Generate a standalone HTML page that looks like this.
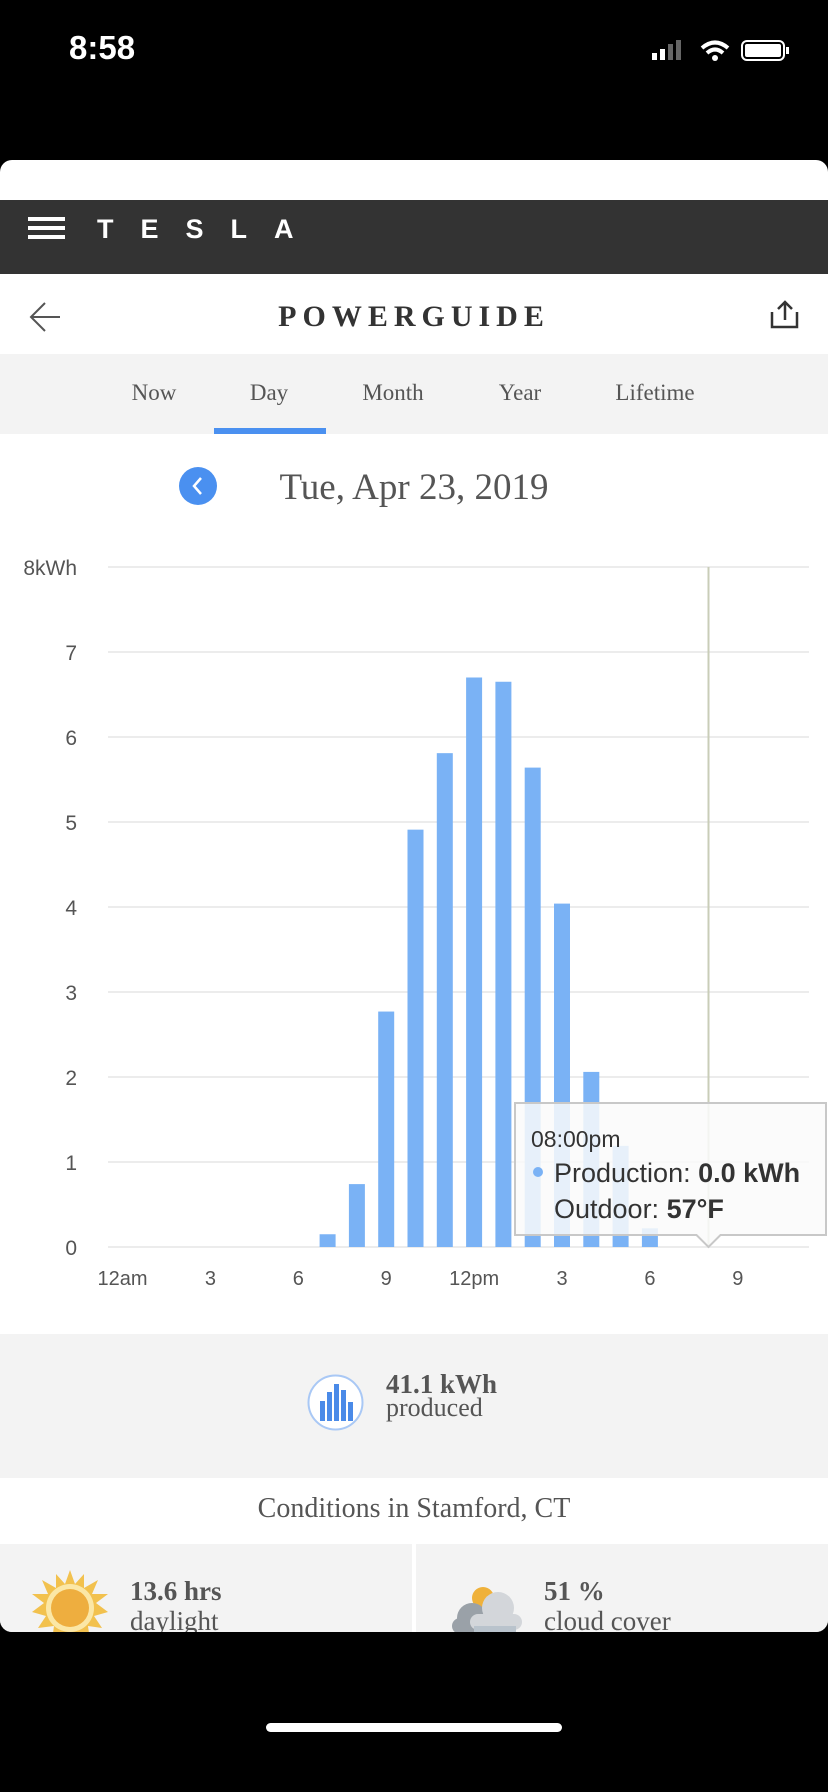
<!DOCTYPE html>
<html><head><meta charset="utf-8">
<style>
body{margin:0;width:828px;height:1792px;background:#000;position:relative;overflow:hidden;font-family:"Liberation Serif",serif}
.abs{position:absolute}
.serif{font-family:"Liberation Serif",serif}
.sans{font-family:"Liberation Sans",sans-serif}
</style></head><body>
<div class="abs sans" style="left:69px;top:29px;color:#fff;font-size:33px;font-weight:bold">8:58</div>
<div class="abs" style="left:652px;top:38px;width:140px;height:24px">
 <svg width="140" height="24"><rect x="0" y="15" width="5" height="7" fill="#fff"/><rect x="8" y="11" width="5" height="11" fill="#fff"/><rect x="16" y="6" width="5" height="16" fill="#666"/><rect x="24" y="2" width="5" height="20" fill="#666"/>
 <path d="M50 10 Q63 -1 76 10" stroke="#fff" stroke-width="4" fill="none"/><path d="M55 15 Q63 8 71 15" stroke="#fff" stroke-width="4" fill="none"/><circle cx="63" cy="20" r="3" fill="#fff"/>
 <rect x="90" y="3" width="42" height="19" rx="5" fill="none" stroke="#fff" stroke-width="2"/><rect x="93" y="6" width="36" height="13" rx="2" fill="#fff"/><rect x="134" y="9" width="3" height="7" fill="#fff"/></svg>
</div>
<div class="abs" style="left:0;top:160px;width:828px;height:1472px;background:#fff;border-radius:12px;overflow:hidden">
 <div class="abs" style="left:0;top:40px;width:828px;height:74px;background:#333"></div>
 <div class="abs" style="left:28px;top:57px;width:37px;height:23px">
  <div style="height:4px;background:#fff;margin-bottom:5px"></div><div style="height:4px;background:#fff;margin-bottom:5px"></div><div style="height:4px;background:#fff"></div></div>
 <div class="abs sans" style="left:97px;top:54px;color:#fff;font-size:27px;font-weight:bold;letter-spacing:27px">TESLA</div>
 <div class="abs" style="left:28px;top:140px"><svg width="34" height="34"><path d="M32 17H3M17 3L3 17L17 31" stroke="#555" stroke-width="2" fill="none"/></svg></div>
 <div class="abs serif" style="left:0;width:828px;top:140px;text-align:center;font-size:30px;font-weight:bold;letter-spacing:6px;color:#333">POWERGUIDE</div>
 <div class="abs" style="left:770px;top:140px"><svg width="30" height="30"><path d="M2 12V27H27V12M15 20V2M8 9L15 2L22 9" stroke="#333" stroke-width="2.5" fill="none"/></svg></div>
 <div class="abs" style="left:0;top:194px;width:828px;height:80px;background:#f3f3f3"></div>
 <div class="abs serif" style="left:104px;width:100px;text-align:center;top:220px;font-size:23px;color:#555">Now</div>
 <div class="abs serif" style="left:219px;width:100px;text-align:center;top:220px;font-size:23px;color:#555">Day</div>
 <div class="abs" style="left:214px;top:268px;width:112px;height:6px;background:#4a90f0"></div>
 <div class="abs serif" style="left:343px;width:100px;text-align:center;top:220px;font-size:23px;color:#555">Month</div>
 <div class="abs serif" style="left:470px;width:100px;text-align:center;top:220px;font-size:23px;color:#555">Year</div>
 <div class="abs serif" style="left:595px;width:120px;text-align:center;top:220px;font-size:23px;color:#555">Lifetime</div>
 <div class="abs" style="left:179px;top:307px;width:38px;height:38px;border-radius:50%;background:#4a90f0"><svg width="38" height="38"><path d="M22 11L15 19L22 27" stroke="#fff" stroke-width="2.5" fill="none"/></svg></div>
 <div class="abs serif" style="left:0;width:828px;text-align:center;top:306px;font-size:37px;color:#555">Tue, Apr 23, 2019</div>
 <div class="abs" style="left:0;top:1174px;width:828px;height:144px;background:#f3f3f3"></div>
 <div class="abs" style="left:307px;top:1214px"><svg width="57" height="57"><circle cx="28.5" cy="28.5" r="27" fill="#fff" stroke="#a9c8f5" stroke-width="2"/><rect x="13" y="27" width="5" height="20" fill="#4a8ae8"/><rect x="20" y="18" width="5" height="29" fill="#4a8ae8"/><rect x="27" y="10" width="5" height="37" fill="#4a8ae8"/><rect x="34" y="16" width="5" height="31" fill="#4a8ae8"/><rect x="41" y="28" width="5" height="19" fill="#4a8ae8"/></svg></div>
 <div class="abs serif" style="left:386px;top:1211px;font-size:27px;font-weight:bold;color:#555;line-height:26px">41.1 kWh</div>
 <div class="abs serif" style="left:386px;top:1236px;font-size:26px;color:#555;line-height:24px">produced</div>
 <div class="abs serif" style="left:0;width:828px;text-align:center;top:1333px;font-size:28px;color:#555">Conditions in Stamford, CT</div>
 <div class="abs" style="left:0;top:1384px;width:412px;height:100px;background:#f3f3f3"></div>
 <div class="abs" style="left:416px;top:1384px;width:412px;height:100px;background:#f3f3f3"></div>
 <div class="abs" style="left:32px;top:1410px"><svg width="76" height="76"><polygon points="38,0 43,14 52,4 52,18 66,10 60,24 76,24 64,33 76,42 62,46 70,58 56,56 58,70 46,62 38,76 30,62 20,70 22,56 6,58 14,46 0,42 12,33 0,24 16,24 10,10 24,18 24,4 33,14" fill="#f2c14e"/><circle cx="38" cy="38" r="24" fill="#fbe7a6"/><circle cx="38" cy="38" r="19" fill="#eeae3f"/></svg></div>
 <div class="abs serif" style="left:130px;top:1416px;font-size:27px;font-weight:bold;color:#555">13.6 hrs</div>
 <div class="abs serif" style="left:130px;top:1446px;font-size:27px;color:#555">daylight</div>
 <div class="abs" style="left:450px;top:1426px"><svg width="72" height="48"><circle cx="33" cy="12" r="11" fill="#efb13a"/><circle cx="22" cy="32" r="15" fill="#9aa1a8"/><rect x="2" y="32" width="40" height="16" rx="8" fill="#9aa1a8"/><circle cx="48" cy="22" r="16" fill="#d3d6da"/><rect x="20" y="28" width="52" height="16" rx="8" fill="#d3d6da"/><rect x="24" y="40" width="42" height="8" fill="#b9c3cc"/></svg></div>
 <div class="abs serif" style="left:544px;top:1416px;font-size:27px;font-weight:bold;color:#555">51 %</div>
 <div class="abs serif" style="left:544px;top:1446px;font-size:27px;color:#555">cloud cover</div>
</div>
<div class="abs" style="left:266px;top:1723px;width:296px;height:9px;border-radius:5px;background:#fff"></div>
<svg id="chart" class="abs" style="left:0;top:0" width="828" height="1792"></svg>
<script>
const hours=[0,1,2,3,4,5,6,7,8,9,10,11,12,13,14,15,16,17,18,19,20,21,22,23];
const production=[0,0,0,0,0,0,0,0.15,0.74,2.77,4.91,5.81,6.70,6.65,5.64,4.04,2.06,1.19,0.22,0,0,0,0,0];
const yTicks=[0,1,2,3,4,5,6,7,8];
const yTickLabels=["0","1","2","3","4","5","6","7","8kWh"];
const xTickHours=[0,3,6,9,12,15,18,21];
const xTickLabels=["12am","3","6","9","12pm","3","6","9"];
const selectedHour=20;
const NS="http://www.w3.org/2000/svg";
const svg=document.getElementById('chart');
const xs=h=>122.5+29.3*h;
const ys=v=>1247-85*v;
function mk(t,a){const e=document.createElementNS(NS,t);for(const k in a)e.setAttribute(k,a[k]);svg.appendChild(e);return e;}
yTicks.forEach((v,i)=>{
 const g=mk('line',{x1:108,x2:809,y1:ys(v),y2:ys(v),stroke:'#ececec','stroke-width':2});
 
 
 const t=mk('text',{x:77,y:ys(v)+8,'text-anchor':'end','font-size':21,fill:'#555','font-family':'Liberation Sans, sans-serif'});
 t.textContent=yTickLabels[i];
 
 
});
xTickHours.forEach((h,i)=>{
 const t=mk('text',{x:xs(h),y:1285,'text-anchor':'middle','font-size':20,fill:'#555','font-family':'Liberation Sans, sans-serif'});
 t.textContent=xTickLabels[i];
 
 
});
const vl=mk('line',{x1:xs(selectedHour),x2:xs(selectedHour),y1:ys(8),y2:ys(0),stroke:'#c9cdb8','stroke-width':2});


hours.forEach((h,i)=>{
 const v=production[i]; if(v<=0)return;
 const r=mk('rect',{x:xs(h)-8,y:ys(v),width:16,height:ys(0)-ys(v),fill:'#7ab2f5'});
 
 
});
const tx=xs(selectedHour);
const tp=mk('path',{d:`M515 1103 H826 V1235 H${tx+12} L${tx} 1247 L${tx-12} 1235 H515 Z`,fill:'rgba(250,250,250,0.85)',stroke:'#c8c8c8','stroke-width':2});


const t1=mk('text',{x:531,y:1147,'font-size':23,fill:'#333','font-family':'Liberation Sans, sans-serif'});t1.textContent='08:00pm';


const dot=mk('circle',{cx:538,cy:1172,r:5,fill:'#7ab2f5'});


const t2=mk('text',{x:554,y:1182,'font-size':27,fill:'#333','font-family':'Liberation Sans, sans-serif'});
t2.innerHTML='Production: <tspan font-weight="bold">0.0 kWh</tspan>';


const t3=mk('text',{x:554,y:1218,'font-size':27,fill:'#333','font-family':'Liberation Sans, sans-serif'});
t3.innerHTML='Outdoor: <tspan font-weight="bold">57°F</tspan>';


</script>
</body></html>
